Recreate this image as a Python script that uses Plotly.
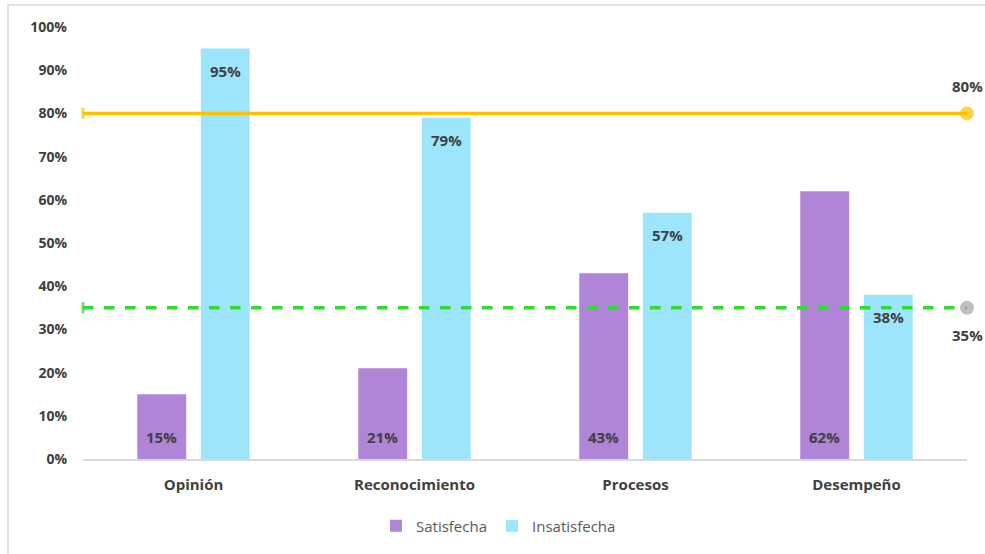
import plotly.graph_objects as go

# Survey satisfaction by dimension
categorias = ["Opinión", "Reconocimiento", "Procesos", "Desempeño"]
satisfecha = [0.15, 0.21, 0.43, 0.62]
insatisfecha = [0.95, 0.79, 0.57, 0.38]

# Reference thresholds drawn across the whole chart
meta_alta = [0.80, 0.80]
meta_baja = [0.35, 0.35]
tramo = [0, 1]

y_ticks = [i / 10 for i in range(11)]

FONT = "Open Sans"
TXT = "#404040"
PURPLE = "#B084D6"
BLUE = "#9DE5FC"
LABEL_FONT = dict(family=FONT, size=15, color=TXT, weight="bold")

fig = go.Figure()

fig.add_trace(go.Bar(
    name="Satisfecha", x=categorias, y=satisfecha,
    marker=dict(color=PURPLE, line=dict(width=0)),
))
fig.add_trace(go.Bar(
    name="Insatisfecha", x=categorias, y=insatisfecha,
    marker=dict(color=BLUE, line=dict(width=0)),
))

fig.add_trace(go.Scatter(
    x=tramo, y=meta_alta, xaxis="x2", mode="lines+markers",
    line=dict(color="#FFC000", width=3.5),
    marker=dict(symbol=["line-ns", "circle"], size=[8, 11],
                color="#FFC000", line=dict(color="#FFC000", width=3)),
    showlegend=False, hoverinfo="skip", cliponaxis=False,
))
fig.add_trace(go.Scatter(
    x=tramo, y=meta_baja, xaxis="x2", mode="lines+markers",
    line=dict(color="#2EDB2E", width=3.5, dash="dash"),
    marker=dict(symbol=["line-ns", "circle"], size=[8, 11],
                color=["#2EDB2E", "#A6A6A6"],
                line=dict(color=["#2EDB2E", "#A6A6A6"], width=3)),
    showlegend=False, hoverinfo="skip", cliponaxis=False,
))

# Bar value labels: satisfied near the base, dissatisfied near the top
OFFSET = 31.75
for cat, v in zip(categorias, satisfecha):
    fig.add_annotation(x=cat, y=0, xref="x", yref="y", text=f"{v:.0%}",
                       showarrow=False, xshift=-OFFSET, yshift=22,
                       font=LABEL_FONT)
for cat, v in zip(categorias, insatisfecha):
    fig.add_annotation(x=cat, y=v, xref="x", yref="y", text=f"{v:.0%}",
                       showarrow=False, xshift=OFFSET, yshift=-22,
                       font=LABEL_FONT)

# Value labels for the threshold lines
fig.add_annotation(x=tramo[-1], y=meta_alta[-1], xref="x2", yref="y",
                   text=f"{meta_alta[-1]:.0%}", showarrow=False, yshift=27,
                   font=LABEL_FONT)
fig.add_annotation(x=tramo[-1], y=meta_baja[-1], xref="x2", yref="y",
                   text=f"{meta_baja[-1]:.0%}", showarrow=False, yshift=-27,
                   font=LABEL_FONT)

# Outer chart frame (left and top edges visible)
fig.add_shape(type="rect", xref="paper", yref="paper",
              x0=-0.0848, x1=1.03, y0=-0.3, y1=1.051,
              line=dict(color="#D9D9D9", width=1.5), layer="below")

fig.update_layout(
    width=985, height=554,
    margin=dict(l=83, r=18, t=27, b=95),
    paper_bgcolor="white", plot_bgcolor="white",
    barmode="group", bargap=0.425, bargroupgap=0.23,
    font=dict(family=FONT, color=TXT),
    xaxis=dict(
        showgrid=False, zeroline=False,
        showline=True, linecolor="#D9D9D9", linewidth=1.5,
        ticks="", ticklabelstandoff=11,
        tickfont=dict(family=FONT, size=15, color=TXT, weight="bold"),
    ),
    xaxis2=dict(overlaying="x", range=[0, 1], visible=False),
    yaxis=dict(
        range=[0, 1], tickvals=y_ticks, tickformat=".0%",
        showgrid=False, zeroline=False, showline=False,
        ticks="", ticklabelstandoff=15,
        tickfont=dict(family=FONT, size=14, color=TXT, weight="bold"),
    ),
    legend=dict(
        orientation="h", x=0.47, xanchor="center", y=-0.155, yanchor="middle",
        font=dict(family=FONT, size=15, color="#595959"),
        itemwidth=30, traceorder="normal",
    ),
)

fig.write_html("out.html")
